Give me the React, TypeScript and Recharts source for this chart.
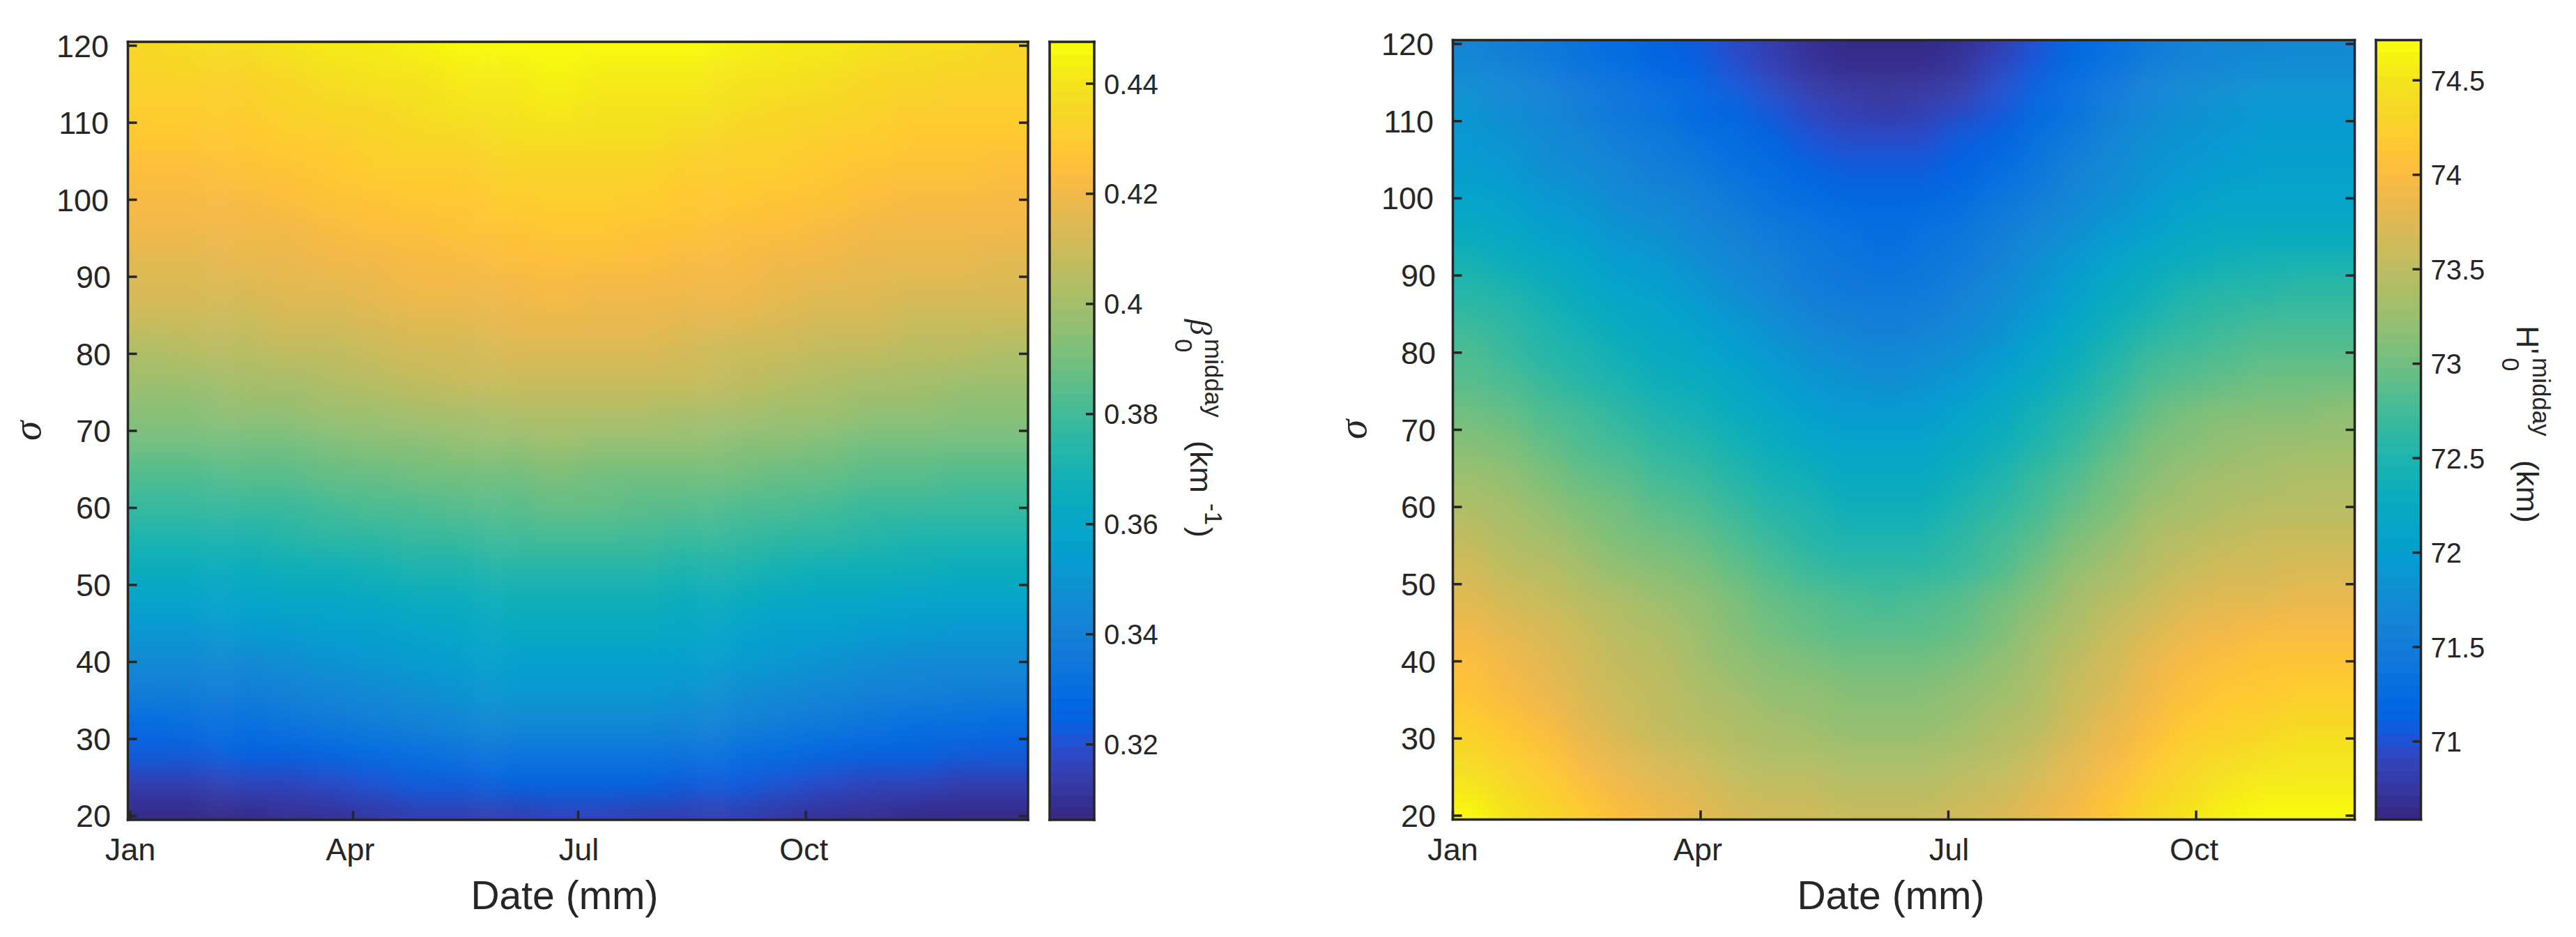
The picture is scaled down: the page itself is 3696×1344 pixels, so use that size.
import { ScatterChart, Scatter, XAxis, YAxis } from "recharts";

const INK = "#262626";
const SANS = "'Liberation Sans', Arial, sans-serif";
const SERIF = "'Liberation Serif', serif";

// MATLAB parula, 64 levels
const PARULA = [
  [0.2081, 0.1663, 0.5292], [0.2116, 0.1898, 0.5777], [0.2123, 0.2138, 0.627], [0.2081, 0.2386, 0.6771],
  [0.1959, 0.2645, 0.7279], [0.1707, 0.2919, 0.7792], [0.1253, 0.3242, 0.8303], [0.0591, 0.3598, 0.8683],
  [0.0117, 0.3875, 0.882], [0.006, 0.4086, 0.8828], [0.0165, 0.4266, 0.8786], [0.0329, 0.443, 0.872],
  [0.0498, 0.4586, 0.8641], [0.0629, 0.4737, 0.8554], [0.0723, 0.4887, 0.8467], [0.0779, 0.504, 0.8384],
  [0.0793, 0.52, 0.8312], [0.0749, 0.5375, 0.8263], [0.0641, 0.557, 0.824], [0.0488, 0.5772, 0.8228],
  [0.0343, 0.5966, 0.8199], [0.0265, 0.6137, 0.8135], [0.0239, 0.6287, 0.8038], [0.0231, 0.6418, 0.7913],
  [0.0228, 0.6535, 0.7768], [0.0267, 0.6642, 0.7607], [0.0384, 0.6743, 0.7436], [0.059, 0.6838, 0.7254],
  [0.0843, 0.6928, 0.7062], [0.1133, 0.7015, 0.6859], [0.1453, 0.7098, 0.6646], [0.1801, 0.7177, 0.6424],
  [0.2178, 0.725, 0.6193], [0.2586, 0.7317, 0.5954], [0.3022, 0.7376, 0.5712], [0.3482, 0.7424, 0.5473],
  [0.3953, 0.7459, 0.5244], [0.442, 0.7481, 0.5033], [0.4871, 0.7491, 0.484], [0.53, 0.7491, 0.4661],
  [0.5709, 0.7485, 0.4494], [0.6099, 0.7473, 0.4337], [0.6473, 0.7456, 0.4188], [0.6834, 0.7435, 0.4044],
  [0.7184, 0.7411, 0.3905], [0.7525, 0.7384, 0.3768], [0.7858, 0.7356, 0.3633], [0.8185, 0.7327, 0.3498],
  [0.8507, 0.7299, 0.336], [0.8824, 0.7274, 0.3217], [0.9139, 0.7258, 0.3063], [0.945, 0.7261, 0.2886],
  [0.9739, 0.7314, 0.2666], [0.9938, 0.7455, 0.2403], [0.999, 0.7653, 0.2164], [0.9955, 0.7861, 0.1967],
  [0.988, 0.8066, 0.1794], [0.9789, 0.8271, 0.1633], [0.9697, 0.8481, 0.1475], [0.9626, 0.8705, 0.1309],
  [0.9589, 0.8949, 0.1132], [0.9598, 0.9218, 0.0948], [0.9661, 0.9514, 0.0755], [0.9763, 0.9831, 0.0538],
];

const sigmaRows = [120, 116, 112, 108, 104, 100, 96, 92, 88, 84, 80, 76, 72, 68, 64, 60, 56, 52, 48, 44, 40, 36, 32, 28, 24, 20];
const sigmaTicks = [20, 30, 40, 50, 60, 70, 80, 90, 100, 110, 120];
const monthLabels = ["Jan", "Apr", "Jul", "Oct"];

// left panel: beta_0 midday (km-1)
const betaDays = [9, 27, 46, 64, 82, 100, 118, 136, 155, 173, 191, 209, 227, 246, 264, 282, 300, 318, 337, 355];
const betaMonthTicks = [1, 91, 182, 274];
const betaBarTicks = [0.32, 0.34, 0.36, 0.38, 0.4, 0.42, 0.44];
const beta120 = [0.436, 0.437, 0.438, 0.439, 0.441, 0.442, 0.444, 0.446, 0.447, 0.448, 0.448, 0.447, 0.446, 0.444, 0.442, 0.441, 0.439, 0.438, 0.437, 0.436];
const beta116 = [0.433, 0.434, 0.434, 0.436, 0.437, 0.439, 0.44, 0.442, 0.443, 0.444, 0.443, 0.443, 0.442, 0.44, 0.439, 0.437, 0.436, 0.435, 0.434, 0.433];
const beta112 = [0.431, 0.431, 0.432, 0.433, 0.435, 0.436, 0.438, 0.439, 0.44, 0.441, 0.44, 0.44, 0.439, 0.437, 0.436, 0.435, 0.433, 0.432, 0.432, 0.431];
const beta108 = [0.428, 0.428, 0.429, 0.43, 0.432, 0.433, 0.435, 0.436, 0.437, 0.438, 0.437, 0.437, 0.436, 0.434, 0.433, 0.432, 0.43, 0.429, 0.429, 0.428];
const beta104 = [0.425, 0.425, 0.426, 0.427, 0.429, 0.43, 0.431, 0.432, 0.433, 0.434, 0.434, 0.433, 0.432, 0.431, 0.43, 0.429, 0.427, 0.426, 0.426, 0.425];
const beta100 = [0.422, 0.422, 0.423, 0.424, 0.426, 0.427, 0.428, 0.429, 0.43, 0.431, 0.431, 0.43, 0.429, 0.428, 0.427, 0.426, 0.424, 0.423, 0.423, 0.422];
const beta96 = [0.419, 0.419, 0.42, 0.421, 0.423, 0.424, 0.425, 0.426, 0.427, 0.428, 0.428, 0.427, 0.426, 0.425, 0.424, 0.423, 0.421, 0.42, 0.42, 0.419];
const beta92 = [0.416, 0.416, 0.417, 0.418, 0.42, 0.421, 0.422, 0.423, 0.424, 0.425, 0.425, 0.424, 0.423, 0.422, 0.421, 0.42, 0.418, 0.417, 0.417, 0.416];
const beta88 = [0.413, 0.413, 0.414, 0.415, 0.416, 0.417, 0.419, 0.42, 0.421, 0.422, 0.421, 0.421, 0.42, 0.419, 0.417, 0.416, 0.415, 0.414, 0.413, 0.413];
const beta84 = [0.408, 0.409, 0.409, 0.411, 0.412, 0.414, 0.415, 0.416, 0.417, 0.418, 0.418, 0.417, 0.416, 0.415, 0.413, 0.412, 0.411, 0.41, 0.409, 0.408];
const beta80 = [0.403, 0.404, 0.405, 0.406, 0.407, 0.409, 0.411, 0.412, 0.413, 0.414, 0.414, 0.413, 0.412, 0.41, 0.409, 0.407, 0.406, 0.405, 0.404, 0.403];
const beta76 = [0.399, 0.399, 0.4, 0.401, 0.403, 0.405, 0.406, 0.408, 0.409, 0.41, 0.409, 0.409, 0.408, 0.406, 0.404, 0.403, 0.401, 0.4, 0.399, 0.399];
const beta72 = [0.394, 0.394, 0.395, 0.396, 0.397, 0.398, 0.4, 0.401, 0.402, 0.403, 0.402, 0.402, 0.401, 0.4, 0.398, 0.397, 0.396, 0.395, 0.394, 0.394];
const beta68 = [0.388, 0.388, 0.389, 0.39, 0.391, 0.393, 0.394, 0.395, 0.396, 0.397, 0.396, 0.396, 0.395, 0.394, 0.393, 0.391, 0.39, 0.389, 0.389, 0.388];
const beta64 = [0.383, 0.383, 0.384, 0.385, 0.386, 0.387, 0.388, 0.389, 0.39, 0.391, 0.39, 0.39, 0.389, 0.388, 0.387, 0.386, 0.385, 0.384, 0.383, 0.383];
const beta60 = [0.377, 0.377, 0.378, 0.379, 0.381, 0.382, 0.383, 0.384, 0.385, 0.386, 0.386, 0.385, 0.384, 0.383, 0.382, 0.381, 0.379, 0.378, 0.378, 0.377];
const beta56 = [0.371, 0.371, 0.372, 0.373, 0.375, 0.376, 0.378, 0.379, 0.38, 0.381, 0.38, 0.38, 0.379, 0.377, 0.376, 0.375, 0.373, 0.372, 0.372, 0.371];
const beta52 = [0.364, 0.365, 0.365, 0.367, 0.368, 0.37, 0.371, 0.372, 0.373, 0.374, 0.374, 0.373, 0.372, 0.371, 0.369, 0.368, 0.367, 0.366, 0.365, 0.364];
const beta48 = [0.358, 0.358, 0.359, 0.36, 0.361, 0.363, 0.364, 0.365, 0.366, 0.367, 0.367, 0.366, 0.365, 0.364, 0.363, 0.361, 0.36, 0.359, 0.358, 0.358];
const beta44 = [0.351, 0.352, 0.353, 0.354, 0.356, 0.357, 0.359, 0.361, 0.362, 0.363, 0.362, 0.362, 0.36, 0.359, 0.357, 0.356, 0.354, 0.353, 0.352, 0.351];
const beta40 = [0.344, 0.345, 0.346, 0.347, 0.349, 0.351, 0.353, 0.355, 0.356, 0.357, 0.357, 0.356, 0.355, 0.353, 0.351, 0.349, 0.347, 0.346, 0.345, 0.344];
const beta36 = [0.338, 0.338, 0.339, 0.341, 0.343, 0.345, 0.347, 0.349, 0.351, 0.352, 0.351, 0.351, 0.349, 0.347, 0.345, 0.343, 0.341, 0.34, 0.338, 0.338];
const beta32 = [0.33, 0.331, 0.332, 0.334, 0.336, 0.338, 0.341, 0.342, 0.344, 0.345, 0.345, 0.344, 0.342, 0.34, 0.338, 0.336, 0.334, 0.332, 0.331, 0.33];
const beta28 = [0.323, 0.323, 0.324, 0.326, 0.328, 0.329, 0.331, 0.333, 0.334, 0.335, 0.335, 0.334, 0.333, 0.331, 0.329, 0.327, 0.326, 0.324, 0.323, 0.323];
const beta24 = [0.315, 0.315, 0.316, 0.317, 0.319, 0.32, 0.322, 0.323, 0.324, 0.325, 0.325, 0.324, 0.323, 0.322, 0.32, 0.319, 0.317, 0.316, 0.315, 0.315];
const beta20 = [0.307, 0.307, 0.308, 0.309, 0.31, 0.312, 0.313, 0.314, 0.315, 0.316, 0.316, 0.315, 0.314, 0.313, 0.312, 0.31, 0.309, 0.308, 0.307, 0.307];
const betaRows = [beta120, beta116, beta112, beta108, beta104, beta100, beta96, beta92, beta88, beta84, beta80, beta76, beta72, beta68, beta64, beta60, beta56, beta52, beta48, beta44, beta40, beta36, beta32, beta28, beta24, beta20];

// right panel: H'_0 midday (km)
const heightDays = [8, 21, 35, 49, 62, 76, 90, 103, 117, 131, 144, 158, 172, 185, 199, 213, 226, 240, 254, 267, 281, 295, 308, 322];
const heightMonthTicks = [1, 91, 181, 271];
const heightBarTicks = [71, 71.5, 72, 72.5, 73, 73.5, 74, 74.5];
const height120 = [71.64, 71.55, 71.45, 71.34, 71.24, 71.14, 71.05, 70.93, 70.81, 70.71, 70.63, 70.6, 70.63, 70.71, 70.84, 71.01, 71.17, 71.34, 71.48, 71.58, 71.65, 71.68, 71.69, 71.7];
const height116 = [71.73, 71.64, 71.53, 71.42, 71.31, 71.22, 71.12, 71.0, 70.88, 70.77, 70.69, 70.66, 70.69, 70.77, 70.91, 71.08, 71.25, 71.42, 71.57, 71.67, 71.74, 71.78, 71.79, 71.8];
const height112 = [71.83, 71.74, 71.64, 71.53, 71.42, 71.33, 71.23, 71.11, 70.99, 70.89, 70.81, 70.78, 70.81, 70.89, 71.03, 71.19, 71.36, 71.53, 71.68, 71.78, 71.84, 71.88, 71.89, 71.9];
const height108 = [71.91, 71.83, 71.73, 71.63, 71.53, 71.44, 71.35, 71.24, 71.13, 71.03, 70.96, 70.93, 70.96, 71.04, 71.16, 71.32, 71.48, 71.63, 71.77, 71.86, 71.93, 71.96, 71.97, 71.98];
const height104 = [71.98, 71.91, 71.81, 71.72, 71.62, 71.54, 71.45, 71.35, 71.25, 71.15, 71.09, 71.06, 71.09, 71.16, 71.27, 71.42, 71.56, 71.71, 71.84, 71.92, 71.98, 72.01, 72.02, 72.03];
const height100 = [72.08, 72.01, 71.91, 71.82, 71.73, 71.64, 71.56, 71.46, 71.36, 71.26, 71.2, 71.17, 71.2, 71.27, 71.38, 71.52, 71.66, 71.81, 71.93, 72.02, 72.07, 72.1, 72.11, 72.12];
const height96 = [72.23, 72.15, 72.05, 71.96, 71.86, 71.77, 71.68, 71.57, 71.47, 71.37, 71.3, 71.27, 71.3, 71.37, 71.49, 71.63, 71.78, 71.93, 72.05, 72.14, 72.2, 72.23, 72.24, 72.25];
const height92 = [72.4, 72.31, 72.21, 72.1, 71.99, 71.9, 71.8, 71.68, 71.56, 71.46, 71.38, 71.35, 71.38, 71.46, 71.59, 71.75, 71.91, 72.07, 72.21, 72.3, 72.37, 72.4, 72.41, 72.42];
const height88 = [72.56, 72.47, 72.35, 72.24, 72.12, 72.02, 71.92, 71.79, 71.67, 71.55, 71.47, 71.44, 71.47, 71.56, 71.7, 71.87, 72.04, 72.22, 72.37, 72.47, 72.54, 72.58, 72.59, 72.6];
const height84 = [72.68, 72.59, 72.47, 72.36, 72.24, 72.14, 72.03, 71.91, 71.78, 71.67, 71.58, 71.55, 71.59, 71.67, 71.81, 71.99, 72.17, 72.35, 72.51, 72.62, 72.69, 72.73, 72.74, 72.75];
const height80 = [72.78, 72.69, 72.57, 72.46, 72.35, 72.25, 72.14, 72.02, 71.9, 71.78, 71.7, 71.67, 71.71, 71.79, 71.94, 72.13, 72.31, 72.49, 72.65, 72.76, 72.84, 72.88, 72.89, 72.9];
const height76 = [72.9, 72.81, 72.7, 72.58, 72.47, 72.37, 72.27, 72.15, 72.02, 71.91, 71.83, 71.8, 71.84, 71.92, 72.07, 72.26, 72.44, 72.62, 72.78, 72.89, 72.97, 73.01, 73.02, 73.03];
const height72 = [73.03, 72.94, 72.83, 72.72, 72.61, 72.51, 72.41, 72.29, 72.17, 72.06, 71.98, 71.95, 71.99, 72.07, 72.22, 72.4, 72.58, 72.77, 72.93, 73.04, 73.11, 73.15, 73.16, 73.17];
const height68 = [73.15, 73.06, 72.95, 72.84, 72.73, 72.64, 72.54, 72.42, 72.3, 72.19, 72.11, 72.08, 72.12, 72.2, 72.34, 72.52, 72.7, 72.88, 73.04, 73.15, 73.22, 73.26, 73.27, 73.28];
const height64 = [73.26, 73.17, 73.07, 72.96, 72.86, 72.76, 72.67, 72.55, 72.43, 72.33, 72.25, 72.22, 72.25, 72.34, 72.47, 72.65, 72.82, 72.99, 73.14, 73.24, 73.31, 73.35, 73.36, 73.37];
const height60 = [73.38, 73.3, 73.19, 73.09, 72.98, 72.89, 72.8, 72.68, 72.57, 72.46, 72.39, 72.36, 72.39, 72.47, 72.6, 72.77, 72.94, 73.1, 73.25, 73.35, 73.41, 73.45, 73.46, 73.47];
const height56 = [73.5, 73.42, 73.31, 73.21, 73.1, 73.01, 72.92, 72.8, 72.69, 72.58, 72.51, 72.48, 72.51, 72.59, 72.72, 72.89, 73.05, 73.22, 73.36, 73.46, 73.53, 73.56, 73.57, 73.58];
const height52 = [73.63, 73.55, 73.44, 73.34, 73.23, 73.14, 73.04, 72.93, 72.81, 72.71, 72.63, 72.6, 72.63, 72.71, 72.84, 73.01, 73.17, 73.34, 73.48, 73.58, 73.65, 73.68, 73.69, 73.7];
const height48 = [73.76, 73.68, 73.57, 73.47, 73.37, 73.28, 73.18, 73.07, 72.96, 72.85, 72.78, 72.75, 72.78, 72.86, 72.99, 73.15, 73.31, 73.47, 73.61, 73.71, 73.78, 73.81, 73.82, 73.83];
const height44 = [73.9, 73.81, 73.7, 73.58, 73.47, 73.37, 73.27, 73.15, 73.03, 72.96, 72.9, 72.88, 72.9, 72.97, 73.08, 73.24, 73.41, 73.58, 73.74, 73.85, 73.92, 73.95, 73.96, 73.97];
const height40 = [74.02, 73.91, 73.78, 73.66, 73.55, 73.43, 73.34, 73.23, 73.15, 73.07, 73.02, 73.0, 73.02, 73.08, 73.19, 73.33, 73.5, 73.66, 73.83, 73.95, 74.03, 74.08, 74.1, 74.1];
const height36 = [74.11, 74.0, 73.85, 73.73, 73.6, 73.49, 73.4, 73.31, 73.23, 73.18, 73.14, 73.12, 73.14, 73.19, 73.28, 73.41, 73.57, 73.74, 73.91, 74.05, 74.14, 74.19, 74.22, 74.22];
const height32 = [74.26, 74.12, 73.95, 73.81, 73.68, 73.55, 73.46, 73.37, 73.31, 73.26, 73.23, 73.22, 73.23, 73.28, 73.36, 73.48, 73.64, 73.82, 74.0, 74.16, 74.26, 74.32, 74.35, 74.35];
const height28 = [74.38, 74.23, 74.07, 73.93, 73.8, 73.67, 73.57, 73.48, 73.42, 73.37, 73.34, 73.33, 73.34, 73.39, 73.47, 73.59, 73.75, 73.93, 74.11, 74.27, 74.37, 74.43, 74.46, 74.46];
const height24 = [74.51, 74.36, 74.2, 74.06, 73.92, 73.79, 73.69, 73.6, 73.54, 73.49, 73.46, 73.45, 73.46, 73.51, 73.59, 73.71, 73.87, 74.05, 74.23, 74.39, 74.49, 74.55, 74.58, 74.58];
const height20 = [74.65, 74.51, 74.34, 74.2, 74.06, 73.93, 73.83, 73.74, 73.67, 73.62, 73.59, 73.58, 73.59, 73.64, 73.71, 73.83, 73.99, 74.16, 74.34, 74.49, 74.59, 74.65, 74.68, 74.68];
const heightRows = [height120, height116, height112, height108, height104, height100, height96, height92, height88, height84, height80, height76, height72, height68, height64, height60, height56, height52, height48, height44, height40, height36, height32, height28, height24, height20];

type Box = { left: number; top: number; right: number; bottom: number };

function parulaColor(v: number, min: number, max: number) {
  const i = Math.max(0, Math.min(63, Math.floor(((v - min) / (max - min)) * 64)));
  const [r, g, b] = PARULA[i];
  return `rgb(${Math.round(r * 255)},${Math.round(g * 255)},${Math.round(b * 255)})`;
}

// axes are 1px wide/tall (0 makes recharts drop them), so take that off the margin
const chartMargin = (b: Box) => ({ left: b.left - 1, top: b.top - 1, right: 3696 - b.right - 1, bottom: 1344 - b.bottom - 1 });

// rect around the scaled point; cells on the edge of the box run past it by `bleed`
function cellShape(box: Box, cellW: number, cellH: number, min: number, max: number, bleed: number) {
  return (props: any) => {
    const { cx, cy, payload } = props;
    let x0 = cx - cellW / 2;
    let x1 = cx + cellW / 2;
    let y0 = cy - cellH / 2;
    let y1 = cy + cellH / 2;
    if (x0 <= box.left) x0 = box.left - bleed;
    if (x1 >= box.right) x1 = box.right + bleed;
    if (y0 <= box.top) y0 = box.top - bleed;
    if (y1 >= box.bottom) y1 = box.bottom + bleed;
    return <rect x={x0} y={y0} width={x1 - x0} height={y1 - y0} fill={parulaColor(payload.v, min, max)} shapeRendering="crispEdges" />;
  };
}

const axisLine = { stroke: INK, strokeWidth: 3.5, strokeLinecap: "square" as const };

// matlab style ticks, pointing into the box
const inTick = (dx: number, dy: number) => (p: any) => (
  <line x1={p.x} y1={p.y} x2={p.x + dx} y2={p.y + dy} stroke={INK} strokeWidth={3.5} />
);

function SigmaTick(p: any) {
  const shift = p.payload.value >= 100 ? 3 : 0;
  return (
    <g>
      <line x1={p.x} y1={p.y} x2={p.x + 13} y2={p.y} stroke={INK} strokeWidth={3.5} />
      <text x={p.x - 24.5 - shift} y={p.y + 16} textAnchor="end" fontSize={45} fontFamily={SANS} fill={INK}>
        {p.payload.value}
      </text>
    </g>
  );
}

const monthNudge = [0, -4, 1, -3];
const monthTick = (ticks: number[]) => (p: any) => {
  const i = ticks.indexOf(p.payload.value);
  return (
    <g>
      <line x1={p.x} y1={p.y} x2={p.x} y2={p.y - 13} stroke={INK} strokeWidth={3.5} />
      <text x={p.x + monthNudge[i]} y={p.y + 58} textAnchor="middle" fontSize={45} fontFamily={SANS} fill={INK}>
        {monthLabels[i]}
      </text>
    </g>
  );
};

function BarTick(p: any) {
  return (
    <g>
      <line x1={p.x} y1={p.y} x2={p.x - 12} y2={p.y} stroke={INK} strokeWidth={3.5} />
      <text x={p.x + 14} y={p.y + 14.5} fontSize={40} fontFamily={SANS} fill={INK}>
        {String(p.payload.value)}
      </text>
    </g>
  );
}

const layer = { position: "absolute" as const, left: 0, top: 0 };

function Heatmap(props: { box: Box; days: number[]; rows: number[][]; xMin: number; xMax: number; monthTicks: number[]; min: number; max: number; colDays: number }) {
  const { box, days, rows, xMin, xMax, monthTicks, min, max, colDays } = props;
  const cells = rows.flatMap((row, r) => row.map((v, c) => ({ x: days[c], y: sigmaRows[r], v })));
  const yDomain = [19.5, 120.5];
  const cellW = ((box.right - box.left) / (xMax - xMin)) * colDays;
  const cellH = ((box.bottom - box.top) / (yDomain[1] - yDomain[0])) * 4;
  return (
    <>
      {/* cells sit in their own layer: softened, then cut to the plot box */}
      <div style={{ position: "absolute", left: box.left, top: box.top, width: box.right - box.left, height: box.bottom - box.top, overflow: "hidden" }}>
        <div style={{ position: "absolute", left: -box.left, top: -box.top, filter: "blur(19px)" }}>
          <ScatterChart width={3696} height={1344} margin={chartMargin(box)}>
            <XAxis xAxisId="b" dataKey="x" type="number" domain={[xMin, xMax]} height={1} axisLine={false} tick={false} tickLine={false} />
            <YAxis yAxisId="l" dataKey="y" type="number" domain={yDomain} width={1} axisLine={false} tick={false} tickLine={false} />
            <Scatter xAxisId="b" yAxisId="l" data={cells} isAnimationActive={false} shape={cellShape(box, cellW, cellH, min, max, 80)} />
          </ScatterChart>
        </div>
      </div>
      <div style={layer}>
        <ScatterChart width={3696} height={1344} margin={chartMargin(box)}>
          <XAxis xAxisId="b" dataKey="x" type="number" orientation="bottom" domain={[xMin, xMax]} allowDataOverflow ticks={monthTicks} interval={0} height={1} axisLine={axisLine} tickLine={false} tickSize={0} tickMargin={0} tick={monthTick(monthTicks)} />
          <XAxis xAxisId="t" type="number" orientation="top" domain={[xMin, xMax]} allowDataOverflow ticks={monthTicks} interval={0} height={1} axisLine={axisLine} tickLine={false} tickSize={0} tickMargin={0} tick={inTick(0, 13)} />
          <YAxis yAxisId="l" dataKey="y" type="number" orientation="left" domain={yDomain} allowDataOverflow ticks={sigmaTicks} interval={0} width={1} axisLine={axisLine} tickLine={false} tickSize={0} tickMargin={0} tick={SigmaTick} />
          <YAxis yAxisId="r" type="number" orientation="right" domain={yDomain} allowDataOverflow ticks={sigmaTicks} interval={0} width={1} axisLine={axisLine} tickLine={false} tickSize={0} tickMargin={0} tick={inTick(-13, 0)} />
          <Scatter xAxisId="b" yAxisId="l" data={[]} isAnimationActive={false} />
        </ScatterChart>
      </div>
    </>
  );
}

function ColorBar(props: { box: Box; min: number; max: number; ticks: number[] }) {
  const { box, min, max, ticks } = props;
  const levels = PARULA.map((_, i) => ({ x: 0.5, y: min + ((i + 0.5) * (max - min)) / 64, v: min + ((i + 0.5) * (max - min)) / 64 }));
  const cellW = box.right - box.left;
  const cellH = (box.bottom - box.top) / 64;
  return (
    <div style={layer}>
      <ScatterChart width={3696} height={1344} margin={chartMargin(box)}>
        <Scatter xAxisId="b" yAxisId="r" data={levels} isAnimationActive={false} shape={cellShape(box, cellW, cellH + 0.5, min, max, 0)} zIndex={100} />
        <XAxis xAxisId="b" dataKey="x" type="number" orientation="bottom" domain={[0, 1]} ticks={[]} height={1} axisLine={axisLine} tickLine={false} tick={false} zIndex={800} />
        <XAxis xAxisId="t" type="number" orientation="top" domain={[0, 1]} ticks={[]} height={1} axisLine={axisLine} tickLine={false} tick={false} zIndex={800} />
        <YAxis yAxisId="l" type="number" orientation="left" domain={[min, max]} allowDataOverflow ticks={[]} width={1} axisLine={axisLine} tickLine={false} tick={false} zIndex={800} />
        <YAxis yAxisId="r" dataKey="y" type="number" orientation="right" domain={[min, max]} allowDataOverflow ticks={ticks} interval={0} width={1} axisLine={axisLine} tickLine={false} tickSize={0} tickMargin={0} tick={BarTick} zIndex={800} />
      </ScatterChart>
    </div>
  );
}

const rot = (x: number, y: number, a: number) => `translate(${x},${y}) rotate(${a})`;

function Titles() {
  const sans = { fontFamily: SANS, fill: INK };
  const greek = { fontFamily: SERIF, fontStyle: "italic" as const, fill: INK };
  return (
    <svg width={3696} height={1344} style={layer}>
      <text x={810} y={1304} textAnchor="middle" fontSize={57} {...sans}>Date (mm)</text>
      <text x={2713} y={1304} textAnchor="middle" fontSize={57} {...sans}>Date (mm)</text>
      <text transform={rot(58, 632, -90)} fontSize={57} {...greek}>σ</text>
      <text transform={rot(1960, 630, -90)} fontSize={57} {...greek}>σ</text>

      <text transform={rot(1708, 458, 90)} fontSize={45} {...greek}>β</text>
      <text transform={rot(1686, 486, 90)} fontSize={35} {...sans}>0</text>
      <text transform={rot(1729, 486, 90)} fontSize={35} {...sans}>midday</text>
      <text transform={rot(1708, 632, 90)} fontSize={45} {...sans}>(km</text>
      <text transform={rot(1729, 722, 90)} fontSize={35} {...sans}>-1</text>
      <text transform={rot(1708, 756, 90)} fontSize={45} {...sans}>)</text>

      <text transform={rot(3611, 467, 90)} fontSize={45} {...sans}>H'</text>
      <text transform={rot(3590, 513, 90)} fontSize={35} {...sans}>0</text>
      <text transform={rot(3634, 513, 90)} fontSize={35} {...sans}>midday</text>
      <text transform={rot(3611, 660, 90)} fontSize={45} {...sans}>(km)</text>
    </svg>
  );
}

export default function App() {
  return (
    <div style={{ position: "absolute", left: 0, top: 0, width: 3696, height: 1344, background: "#fff", overflow: "hidden" }}>
      <Heatmap box={{ left: 183.5, top: 60, right: 1475, bottom: 1176 }} days={betaDays} rows={betaRows} xMin={0} xMax={363.8} monthTicks={betaMonthTicks} min={0.3063} max={0.4476} colDays={18.8} />
      <ColorBar box={{ left: 1506, top: 60, right: 1570, bottom: 1176 }} min={0.3063} max={0.4476} ticks={betaBarTicks} />
      <Heatmap box={{ left: 2084.5, top: 57.5, right: 3378.5, bottom: 1175.5 }} days={heightDays} rows={heightRows} xMin={1} xMax={328.6} monthTicks={heightMonthTicks} min={70.587} max={74.713} colDays={14.2} />
      <ColorBar box={{ left: 3409, top: 57.5, right: 3473.5, bottom: 1175.5 }} min={70.587} max={74.713} ticks={heightBarTicks} />
      <Titles />
    </div>
  );
}
